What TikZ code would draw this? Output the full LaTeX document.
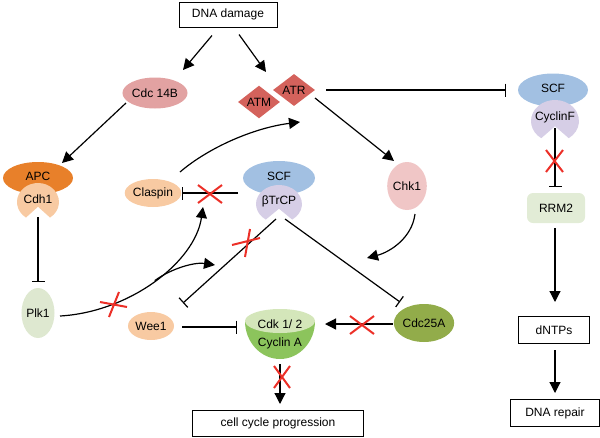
\documentclass[tikz,border=0pt]{standalone}
\usepackage{fontspec}
\setmainfont{Liberation Sans}
\usetikzlibrary{shapes.geometric,arrows.meta,calc}
\definecolor{cdcpink}{RGB}{226,162,162}
\definecolor{atmred}{RGB}{212,98,92}
\definecolor{apcorange}{RGB}{232,128,42}
\definecolor{peach}{RGB}{248,202,162}
\definecolor{scfblue}{RGB}{162,192,226}
\definecolor{lavender}{RGB}{214,206,230}
\definecolor{chkpink}{RGB}{240,198,198}
\definecolor{plkgreen}{RGB}{222,232,208}
\definecolor{rrmgreen}{RGB}{226,236,214}
\definecolor{cdklight}{RGB}{212,230,186}
\definecolor{cycgreen}{RGB}{140,196,92}
\definecolor{olivegreen}{RGB}{146,172,74}
\definecolor{xred}{RGB}{236,48,40}
\newcommand{\pacshape}[5]{\fill[#5] (#1,#2) ++(125:#3 and #4) arc[start angle=125,end angle=415,x radius=#3,y radius=#4] -- (#1,#2+0.25*#4) -- cycle;}
\newcommand{\redcross}[4]{\draw[xmark] #1 -- #2 #3 -- #4;}
\begin{document}
\begin{tikzpicture}[x=1pt,y=1pt,yscale=-1,
  font=\fontsize{12}{14}\selectfont,
  box/.style={draw, line width=0.9pt, rectangle, inner sep=0pt},
  blob/.style={ellipse, inner sep=0pt},
  gem/.style={diamond, inner sep=0pt, fill=atmred, minimum width=42pt, minimum height=32pt},
  act/.style={-{Triangle[length=11pt,width=11pt]}, line width=1.2pt},
  inh/.style={-{Bar[width=13pt,line width=1.2pt]}, line width=1.2pt},
  xmark/.style={xred, line width=2pt}]
\useasboundingbox (0,0) rectangle (600,437);

% boxes
\node[box, minimum width=98pt, minimum height=25pt] (dna) at (228,14.5) {DNA damage};
\node[box, minimum width=71pt, minimum height=27pt] (dntps) at (554,330) {dNTPs};
\node[box, minimum width=89pt, minimum height=27pt] (repair) at (555,413) {DNA repair};
\node[box, minimum width=171pt, minimum height=26pt] (ccp) at (278,423) {cell cycle progression};

% simple blobs
\node[blob, fill=cdcpink, minimum width=53pt, minimum height=31pt] (cdc14b) at (155,93) {Cdc 14B};
\node[gem] (atm) at (259,102) {ATM};
\node[gem] (atr) at (294,90) {ATR};
\node[blob, fill=chkpink, minimum width=29pt, minimum height=48pt] (chk1) at (407,186) {Chk1};
\node[blob, fill=peach, minimum width=50pt, minimum height=28pt] (claspin) at (153,193) {Claspin};
\node[blob, fill=plkgreen, minimum width=30pt, minimum height=50pt] (plk1) at (38,313) {Plk1};
\node[blob, fill=peach, minimum width=46pt, minimum height=28pt] (wee1) at (151,326) {Wee1};
\node[blob, fill=olivegreen, minimum width=50pt, minimum height=38pt] (cdc25a) at (424,323) {Cdc25A};
\node[rectangle, rounded corners=6pt, fill=rrmgreen, minimum width=58pt, minimum height=30pt, inner sep=0pt] (rrm2) at (556,208) {RRM2};

% SCF / CyclinF
\node[blob, fill=scfblue, minimum width=70pt, minimum height=33pt] (scfF) at (553,90) {};
\node at (553,88) {SCF};
\pacshape{555}{121}{24}{21}{lavender}
\node (cycF) at (555,117) {CyclinF};

% SCF / betaTrCP
\node[blob, fill=scfblue, minimum width=72pt, minimum height=34pt] (scfB) at (279,178) {};
\node at (279,176) {SCF};
\pacshape{279}{204}{23}{19}{lavender}
\node (btrcp) at (279,201) {βTrCP};

% APC / Cdh1
\node[blob, fill=apcorange, minimum width=70pt, minimum height=32pt] (apc) at (38,178) {};
\node at (38,176) {APC};
\pacshape{38}{202}{21}{19}{peach}
\node (cdh1) at (38,199) {Cdh1};

% Cdk / Cyclin A bowl
\fill[cycgreen] (245,321) arc[start angle=180,end angle=0,x radius=35,y radius=38] -- cycle;
\node[blob, fill=cdklight, minimum width=70pt, minimum height=24pt] (cdk) at (280,321) {};
\node at (280,324) {Cdk 1/ 2};
\node (cyca) at (280,343) {Cyclin A};

% connectors
\draw[act] ($(dna)+(-16,21)$) -- ($(cdc14b)+(28,-23)$);
\draw[act] ($(dna)+(11,20)$) -- ($(atm)+(7,-30)$);
\draw[act] ($(cdc14b)+(-29,10)$) -- ($(apc)+(24,-15)$);
\draw[inh] ($(atr)+(32,0)$) -- ($(scfF)+(-47,0)$);
\draw[act] ($(atr)+(21,8)$) -- ($(chk1)+(-13,-25)$);
\coordinate (chkend) at ($(chk1)+(-40,72)$);
\draw[act] ($(chk1)+(8,28)$) .. controls ($(chk1)+(5,52)$) and ($(chk1)+(-17,66)$) .. (chkend);
\draw[inh] ($(cycF)+(0,11)$) -- ($(rrm2)+(-1,-21)$);
\draw[act] ($(rrm2)+(-1,20)$) -- ($(dntps)+(1,-28)$);
\draw[act] ($(dntps)+(1,20)$) -- ($(repair)+(0,-20)$);
\draw[inh] ($(cdh1)+(0,18)$) -- ($(plk1)+(0,-31)$);
\draw[act] ($(claspin)+(27,-21)$) .. controls ($(claspin)+(55,-45)$) and ($(claspin)+(100,-65)$) .. ($(atr)+(6,32)$);
\draw[inh] ($(btrcp)+(-41,-8)$) -- ($(claspin)+(29,0)$);
\draw[inh] ($(btrcp)+(-3,18)$) -- ($(wee1)+(32,-23)$);
\draw[inh] ($(btrcp)+(6,18)$) -- ($(cdc25a)+(-24,-21)$);
\draw[inh] ($(wee1)+(31,1)$) -- ($(cdk)+(-43,6)$);
\draw[act] ($(cdc25a)+(-31,1)$) -- ($(cdk)+(45,3)$);
\draw[act] ($(cdk)+(0,43)$) -- ($(ccp)+(2,-19)$);
\coordinate (plkup) at (203,207);
\coordinate (plkright) at (215,265);
\draw[act] ($(plk1)+(22,3)$) .. controls ($(plk1)+(92,-1)$) and ($(plk1)+(157,-51)$) .. (plkup)
  coordinate[pos=0.5] (branch);
\draw[act] (branch) .. controls (172,268) and (195,262) .. (plkright);

% red crosses
\redcross{(198,185)}{(222,203)}{(198,203)}{(222,185)}
\redcross{(232,245)}{(260,238)}{(245,257)}{(250,229)}
\redcross{(100,302)}{(127,307)}{(109,317)}{(119,292)}
\redcross{(546,150)}{(563,172)}{(563,150)}{(546,172)}
\redcross{(350,316)}{(374,334)}{(350,334)}{(374,316)}
\redcross{(274,366)}{(290,388)}{(290,366)}{(274,388)}
\end{tikzpicture}
\end{document}
